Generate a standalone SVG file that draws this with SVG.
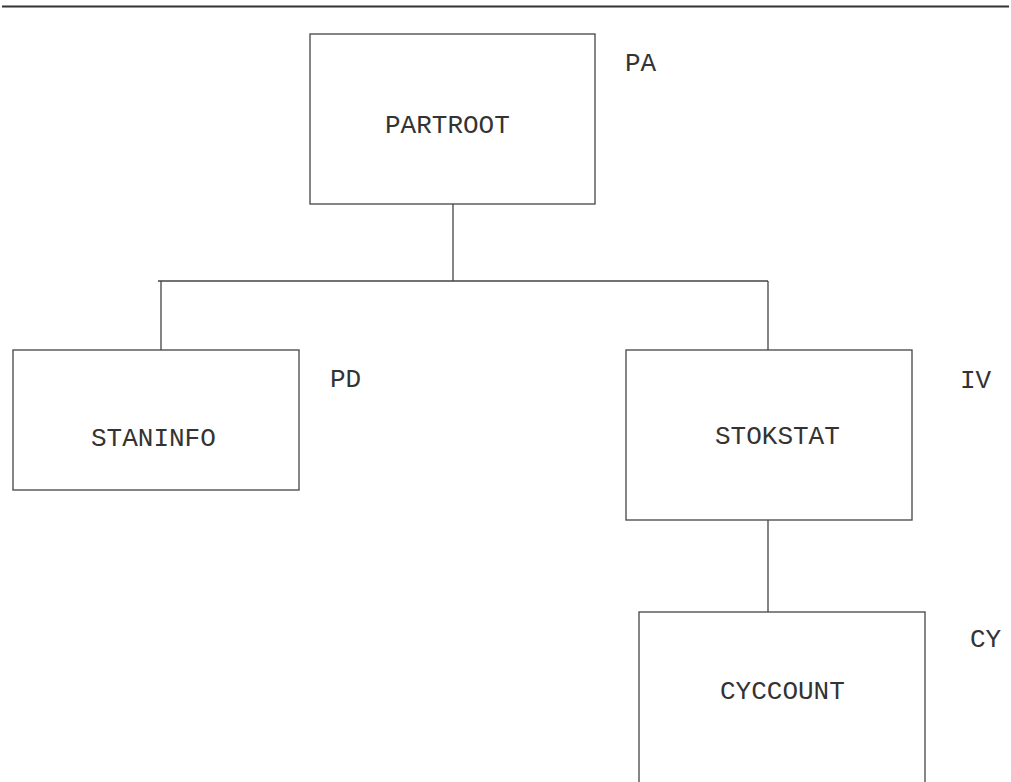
<svg xmlns="http://www.w3.org/2000/svg" width="1011" height="782" viewBox="0 0 1011 782">
<style>
.box{fill:#fff;stroke:#444;stroke-width:1.3}
.ln{fill:none;stroke:#444;stroke-width:1.3}
.t{font-family:"Liberation Mono","Courier New",monospace;font-size:26px;fill:#333}
</style>
<rect width="1011" height="782" fill="#fff"/>
<line x1="2" y1="6.5" x2="1009" y2="6.5" stroke="#333" stroke-width="2"/>
<g id="connectors">
<path class="ln" d="M453,204 V281 M158,281 H768 M161,281 V350 M768,281 V350 M768,520 V612"/>
</g>
<g id="partroot">
<rect class="box" x="310" y="34" width="285" height="170"/>
<text class="t" x="385" y="133">PARTROOT</text>
<text class="t" x="625" y="71">PA</text>
</g>
<g id="staninfo">
<rect class="box" x="13" y="350" width="286" height="140"/>
<text class="t" x="91" y="446">STANINFO</text>
<text class="t" x="330" y="387">PD</text>
</g>
<g id="stokstat">
<rect class="box" x="626" y="350" width="286" height="170"/>
<text class="t" x="715" y="444">STOKSTAT</text>
<text class="t" x="960" y="388">IV</text>
</g>
<g id="cyccount">
<rect class="box" x="639" y="612" width="286" height="190"/>
<text class="t" x="720" y="699">CYCCOUNT</text>
<text class="t" x="970" y="647">CY</text>
</g>
</svg>
